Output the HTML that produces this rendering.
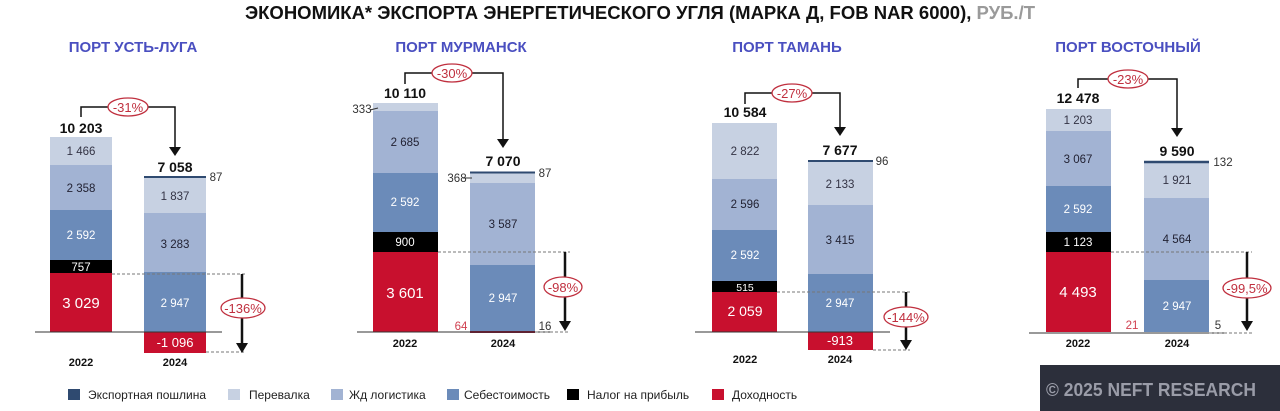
<!DOCTYPE html>
<html><head><meta charset="utf-8"><style>
html,body{margin:0;padding:0;background:#fff;width:1280px;height:411px;overflow:hidden}
svg text{font-family:"Liberation Sans",sans-serif}
</style></head><body>
<svg width="1280" height="411" viewBox="0 0 1280 411" xmlns="http://www.w3.org/2000/svg">
<text x="640" y="19" text-anchor="middle" font-size="18.5" font-weight="bold" fill="#111">ЭКОНОМИКА* ЭКСПОРТА ЭНЕРГЕТИЧЕСКОГО УГЛЯ (МАРКА Д, FOB NAR 6000), <tspan fill="#9a9a9a">РУБ./Т</tspan></text>
<g font-size="15" font-weight="bold" fill="#4a4fc0" text-anchor="middle">
<text x="133" y="52">ПОРТ УСТЬ-ЛУГА</text><text x="461" y="52">ПОРТ МУРМАНСК</text><text x="787" y="52">ПОРТ ТАМАНЬ</text><text x="1128" y="52">ПОРТ ВОСТОЧНЫЙ</text></g>

<!-- Panel 1 -->
<g>
<rect x="50" y="137" width="62" height="28" fill="#c7d1e2"/><rect x="50" y="165" width="62" height="45" fill="#a2b3d3"/><rect x="50" y="210" width="62" height="50" fill="#6b8bb9"/><rect x="50" y="260" width="62" height="13" fill="#000"/><rect x="50" y="273" width="62" height="59" fill="#c8102e"/>
<rect x="144" y="178" width="62" height="35" fill="#c7d1e2"/><rect x="144" y="213" width="62" height="59" fill="#a2b3d3"/><rect x="144" y="272" width="62" height="60" fill="#6b8bb9"/><rect x="144" y="332" width="62" height="21" fill="#c8102e"/>
<line x1="144" y1="177" x2="206" y2="177" stroke="#2f4a70" stroke-width="2"/>
<line x1="35" y1="332" x2="222" y2="332" stroke="#333" stroke-width="1"/>
<line x1="112" y1="274" x2="246" y2="274" stroke="#777" stroke-dasharray="3,2"/><line x1="206" y1="352" x2="246" y2="352" stroke="#777" stroke-dasharray="3,2"/>
<line x1="242" y1="274" x2="242" y2="345" stroke="#111" stroke-width="2.5"/><path d="M236,343 L248,343 L242,353z" fill="#111"/>
<polyline points="81,117 81,107 175,107 175,148" fill="none" stroke="#111" stroke-width="1.5"/><path d="M169,147 L181,147 L175,156z" fill="#111"/>
<ellipse cx="128" cy="107" rx="20" ry="9" fill="#fff" stroke="#c0303f" stroke-width="1.3"/><text x="128" y="112" text-anchor="middle" font-size="13" fill="#c0303f">-31%</text>
<ellipse cx="243" cy="308" rx="22" ry="10" fill="#fff" stroke="#c0303f" stroke-width="1.3"/><text x="243" y="313" text-anchor="middle" font-size="13" fill="#c0303f">-136%</text>
<g font-size="11.5" text-anchor="middle"><text x="81" y="155" fill="#334">1 466</text><text x="81" y="192" fill="#223">2 358</text><text x="81" y="239" fill="#fff">2 592</text><text x="81" y="271" fill="#fff">757</text><text x="81" y="308" fill="#fff" font-size="15">3 029</text>
<text x="175" y="200" fill="#334">1 837</text><text x="175" y="248" fill="#223">3 283</text><text x="175" y="307" fill="#fff">2 947</text><text x="175" y="347" fill="#fff" font-size="13">-1 096</text><text x="216" y="181" fill="#333">87</text></g>
<g font-size="14" font-weight="bold" text-anchor="middle" fill="#111"><text x="81" y="133">10 203</text><text x="175" y="172">7 058</text></g>
<g font-size="11" font-weight="bold" text-anchor="middle" fill="#111"><text x="81" y="366">2022</text><text x="175" y="366">2024</text></g>
</g>

<!-- Panel 2 -->
<g>
<rect x="373" y="103" width="65" height="8" fill="#c7d1e2"/><rect x="373" y="111" width="65" height="62" fill="#a2b3d3"/><rect x="373" y="173" width="65" height="59" fill="#6b8bb9"/><rect x="373" y="232" width="65" height="20" fill="#000"/><rect x="373" y="252" width="65" height="80" fill="#c8102e"/>
<rect x="470" y="173" width="65" height="10" fill="#c7d1e2"/><rect x="470" y="183" width="65" height="82" fill="#a2b3d3"/><rect x="470" y="265" width="65" height="67" fill="#6b8bb9"/><rect x="470" y="331" width="65" height="2" fill="#8a1030"/>
<line x1="470" y1="172.5" x2="535" y2="172.5" stroke="#2f4a70" stroke-width="2"/>
<line x1="357" y1="332" x2="550" y2="332" stroke="#333"/>
<line x1="438" y1="252" x2="570" y2="252" stroke="#777" stroke-dasharray="3,2"/><line x1="535" y1="332" x2="570" y2="332" stroke="#777" stroke-dasharray="3,2"/>
<line x1="565" y1="252" x2="565" y2="322" stroke="#111" stroke-width="2.5"/><path d="M559,321 L571,321 L565,331z" fill="#111"/>
<polyline points="405,84 405,73 503,73 503,140" fill="none" stroke="#111" stroke-width="1.5"/><path d="M497,139 L509,139 L503,148z" fill="#111"/>
<ellipse cx="452" cy="73" rx="20" ry="9" fill="#fff" stroke="#c0303f" stroke-width="1.3"/><text x="452" y="78" text-anchor="middle" font-size="13" fill="#c0303f">-30%</text>
<ellipse cx="563" cy="287" rx="19" ry="10" fill="#fff" stroke="#c0303f" stroke-width="1.3"/><text x="563" y="292" text-anchor="middle" font-size="13" fill="#c0303f">-98%</text>
<g font-size="11.5" text-anchor="middle"><text x="405" y="146" fill="#223">2 685</text><text x="405" y="206" fill="#fff">2 592</text><text x="405" y="246" fill="#fff">900</text><text x="405" y="298" fill="#fff" font-size="15">3 601</text>
<text x="503" y="228" fill="#223">3 587</text><text x="503" y="302" fill="#fff">2 947</text>
<text x="362" y="113" fill="#333">333</text><text x="457" y="182" fill="#333">368</text><text x="545" y="177" fill="#333">87</text><text x="461" y="330" fill="#d04050">64</text><text x="545" y="330" fill="#333">16</text></g>
<line x1="370" y1="110" x2="378" y2="108" stroke="#333"/><line x1="463" y1="178" x2="472" y2="178" stroke="#333"/>
<g font-size="14" font-weight="bold" text-anchor="middle" fill="#111"><text x="405" y="98">10 110</text><text x="503" y="166">7 070</text></g>
<g font-size="11" font-weight="bold" text-anchor="middle" fill="#111"><text x="405" y="347">2022</text><text x="503" y="347">2024</text></g>
</g>

<!-- Panel 3 -->
<g>
<rect x="712" y="123" width="65" height="56" fill="#c7d1e2"/><rect x="712" y="179" width="65" height="51" fill="#a2b3d3"/><rect x="712" y="230" width="65" height="51" fill="#6b8bb9"/><rect x="712" y="281" width="65" height="11" fill="#000"/><rect x="712" y="292" width="65" height="40" fill="#c8102e"/>
<rect x="808" y="162" width="65" height="43" fill="#c7d1e2"/><rect x="808" y="205" width="65" height="69" fill="#a2b3d3"/><rect x="808" y="274" width="65" height="58" fill="#6b8bb9"/><rect x="808" y="332" width="65" height="18" fill="#c8102e"/>
<line x1="808" y1="161" x2="873" y2="161" stroke="#2f4a70" stroke-width="2"/>
<line x1="695" y1="332" x2="890" y2="332" stroke="#333"/>
<line x1="777" y1="292" x2="910" y2="292" stroke="#777" stroke-dasharray="3,2"/><line x1="873" y1="350" x2="910" y2="350" stroke="#777" stroke-dasharray="3,2"/>
<line x1="906" y1="292" x2="906" y2="342" stroke="#111" stroke-width="2.5"/><path d="M900,340 L912,340 L906,350z" fill="#111"/>
<polyline points="745,104 745,93 840,93 840,128" fill="none" stroke="#111" stroke-width="1.5"/><path d="M834,127 L846,127 L840,136z" fill="#111"/>
<ellipse cx="792" cy="93" rx="20" ry="9" fill="#fff" stroke="#c0303f" stroke-width="1.3"/><text x="792" y="98" text-anchor="middle" font-size="13" fill="#c0303f">-27%</text>
<ellipse cx="906" cy="317" rx="22" ry="10" fill="#fff" stroke="#c0303f" stroke-width="1.3"/><text x="906" y="322" text-anchor="middle" font-size="13" fill="#c0303f">-144%</text>
<g font-size="11.5" text-anchor="middle"><text x="745" y="155" fill="#334">2 822</text><text x="745" y="208" fill="#223">2 596</text><text x="745" y="259" fill="#fff">2 592</text><text x="745" y="291" fill="#fff" font-size="10.5">515</text><text x="745" y="316" fill="#fff" font-size="14">2 059</text>
<text x="840" y="188" fill="#334">2 133</text><text x="840" y="244" fill="#223">3 415</text><text x="840" y="307" fill="#fff">2 947</text><text x="840" y="345" fill="#fff" font-size="13">-913</text><text x="882" y="165" fill="#333">96</text></g>
<g font-size="14" font-weight="bold" text-anchor="middle" fill="#111"><text x="745" y="117">10 584</text><text x="840" y="155">7 677</text></g>
<g font-size="11" font-weight="bold" text-anchor="middle" fill="#111"><text x="745" y="363">2022</text><text x="840" y="363">2024</text></g>
</g>

<!-- Panel 4 -->
<g>
<rect x="1046" y="109" width="65" height="22" fill="#c7d1e2"/><rect x="1046" y="131" width="65" height="55" fill="#a2b3d3"/><rect x="1046" y="186" width="65" height="46" fill="#6b8bb9"/><rect x="1046" y="232" width="65" height="20" fill="#000"/><rect x="1046" y="252" width="65" height="80" fill="#c8102e"/>
<rect x="1144" y="163" width="65" height="35" fill="#c7d1e2"/><rect x="1144" y="198" width="65" height="82" fill="#a2b3d3"/><rect x="1144" y="280" width="65" height="52" fill="#6b8bb9"/>
<line x1="1144" y1="162" x2="1209" y2="162" stroke="#2f4a70" stroke-width="2.5"/>
<line x1="1029" y1="333" x2="1227" y2="333" stroke="#333"/>
<line x1="1111" y1="252" x2="1252" y2="252" stroke="#777" stroke-dasharray="3,2"/><line x1="1209" y1="333" x2="1252" y2="333" stroke="#777" stroke-dasharray="3,2"/>
<line x1="1247" y1="252" x2="1247" y2="322" stroke="#111" stroke-width="2.5"/><path d="M1241,321 L1253,321 L1247,331z" fill="#111"/>
<polyline points="1078,88 1078,79 1177,79 1177,129" fill="none" stroke="#111" stroke-width="1.5"/><path d="M1171,128 L1183,128 L1177,137z" fill="#111"/>
<ellipse cx="1128" cy="79" rx="20" ry="9" fill="#fff" stroke="#c0303f" stroke-width="1.3"/><text x="1128" y="84" text-anchor="middle" font-size="13" fill="#c0303f">-23%</text>
<ellipse cx="1247" cy="288" rx="24" ry="10" fill="#fff" stroke="#c0303f" stroke-width="1.3"/><text x="1247" y="293" text-anchor="middle" font-size="13" fill="#c0303f">-99,5%</text>
<g font-size="11.5" text-anchor="middle"><text x="1078" y="124" fill="#334">1 203</text><text x="1078" y="163" fill="#223">3 067</text><text x="1078" y="213" fill="#fff">2 592</text><text x="1078" y="246" fill="#fff">1 123</text><text x="1078" y="297" fill="#fff" font-size="15">4 493</text>
<text x="1177" y="184" fill="#334">1 921</text><text x="1177" y="243" fill="#223">4 564</text><text x="1177" y="310" fill="#fff">2 947</text><text x="1132" y="329" fill="#d04050">21</text><text x="1218" y="329" fill="#333">5</text><text x="1223" y="166" fill="#333">132</text></g>
<g font-size="14" font-weight="bold" text-anchor="middle" fill="#111"><text x="1078" y="103">12 478</text><text x="1177" y="156">9 590</text></g>
<g font-size="11" font-weight="bold" text-anchor="middle" fill="#111"><text x="1078" y="347">2022</text><text x="1177" y="347">2024</text></g>
</g>

<!-- Legend -->
<g font-size="12" fill="#222">
<rect x="68" y="389" width="12" height="11" fill="#2f4a70"/><text x="88" y="399">Экспортная пошлина</text>
<rect x="228" y="389" width="12" height="11" fill="#c7d1e2"/><text x="249" y="399">Перевалка</text>
<rect x="331" y="389" width="12" height="11" fill="#a2b3d3"/><text x="349" y="399">Жд логистика</text>
<rect x="447" y="389" width="12" height="11" fill="#6b8bb9"/><text x="464" y="399">Себестоимость</text>
<rect x="567" y="389" width="12" height="11" fill="#000"/><text x="587" y="399">Налог на прибыль</text>
<rect x="712" y="389" width="12" height="11" fill="#c8102e"/><text x="732" y="399">Доходность</text>
</g>
<rect x="1040" y="365" width="240" height="46" fill="#2c2f3b"/>
<text x="1046" y="396" font-size="18" font-weight="bold" fill="#9a9ca8" textLength="210" lengthAdjust="spacingAndGlyphs">© 2025 NEFT RESEARCH</text>
</svg>
</body></html>
